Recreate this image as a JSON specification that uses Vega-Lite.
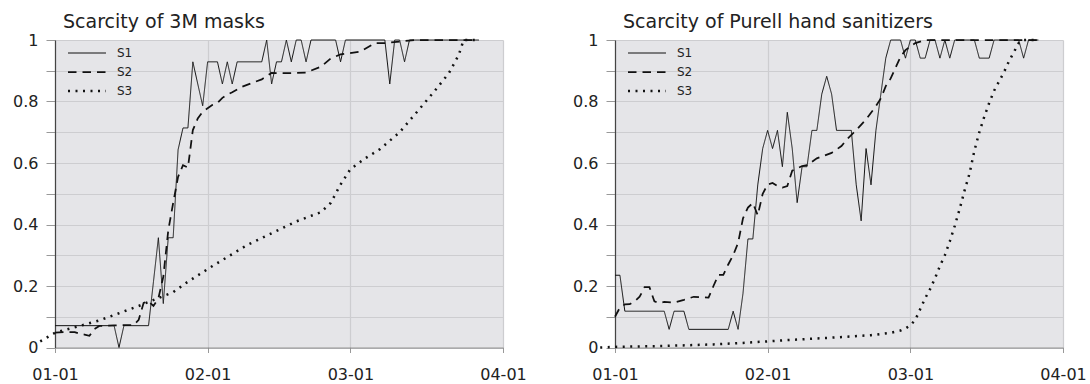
{
  "$schema": "https://vega.github.io/schema/vega-lite/v6.json",
  "padding": {"left": 12, "top": 13, "right": 2, "bottom": 5},
  "bounds": "flush",
  "spacing": 112,
  "config": {
    "font": "DejaVu Sans",
    "view": {"fill": "#e5e5e8", "stroke": null},
    "axis": {"labelFont": "DejaVu Sans", "labelFontSize": 16, "labelColor": "#222", "gridColor": "#cdcdd0", "gridWidth": 1.2, "tickColor": "#999", "domainWidth": 1.2, "title": null},
    "title": {"font": "DejaVu Sans", "fontSize": 19, "fontWeight": "normal", "color": "#222", "anchor": "start", "frame": "group"},
    "legend": {"orient": "none", "legendX": 13, "legendY": 1.5, "title": null, "symbolType": "M-1.136,0H2.318", "symbolSize": 484, "symbolStrokeColor": "#111", "labelFont": "DejaVu Sans", "labelFontSize": 12, "labelColor": "#222", "rowPadding": 0.5, "padding": 0, "labelOffset": 24},
    "line": {"color": "#111"}
  },
  "datasets": {
    "masks": [
      {"series": "S1", "date": "2020-01-01", "value": 0.071},
      {"series": "S1", "date": "2020-01-13", "value": 0.071},
      {"series": "S1", "date": "2020-01-14", "value": 0},
      {"series": "S1", "date": "2020-01-15", "value": 0.071},
      {"series": "S1", "date": "2020-01-20", "value": 0.071},
      {"series": "S1", "date": "2020-01-21", "value": 0.214},
      {"series": "S1", "date": "2020-01-22", "value": 0.357},
      {"series": "S1", "date": "2020-01-23", "value": 0.143},
      {"series": "S1", "date": "2020-01-24", "value": 0.357},
      {"series": "S1", "date": "2020-01-25", "value": 0.357},
      {"series": "S1", "date": "2020-01-26", "value": 0.643},
      {"series": "S1", "date": "2020-01-27", "value": 0.714},
      {"series": "S1", "date": "2020-01-28", "value": 0.714},
      {"series": "S1", "date": "2020-01-29", "value": 0.929},
      {"series": "S1", "date": "2020-01-30", "value": 0.857},
      {"series": "S1", "date": "2020-01-31", "value": 0.786},
      {"series": "S1", "date": "2020-02-01", "value": 0.929},
      {"series": "S1", "date": "2020-02-03", "value": 0.929},
      {"series": "S1", "date": "2020-02-04", "value": 0.857},
      {"series": "S1", "date": "2020-02-05", "value": 0.929},
      {"series": "S1", "date": "2020-02-06", "value": 0.857},
      {"series": "S1", "date": "2020-02-07", "value": 0.929},
      {"series": "S1", "date": "2020-02-12", "value": 0.929},
      {"series": "S1", "date": "2020-02-13", "value": 1},
      {"series": "S1", "date": "2020-02-14", "value": 0.857},
      {"series": "S1", "date": "2020-02-15", "value": 0.929},
      {"series": "S1", "date": "2020-02-16", "value": 0.929},
      {"series": "S1", "date": "2020-02-17", "value": 1},
      {"series": "S1", "date": "2020-02-18", "value": 0.929},
      {"series": "S1", "date": "2020-02-19", "value": 1},
      {"series": "S1", "date": "2020-02-20", "value": 1},
      {"series": "S1", "date": "2020-02-21", "value": 0.929},
      {"series": "S1", "date": "2020-02-22", "value": 1},
      {"series": "S1", "date": "2020-02-27", "value": 1},
      {"series": "S1", "date": "2020-02-28", "value": 0.929},
      {"series": "S1", "date": "2020-02-29", "value": 1},
      {"series": "S1", "date": "2020-03-08", "value": 1},
      {"series": "S1", "date": "2020-03-09", "value": 0.857},
      {"series": "S1", "date": "2020-03-10", "value": 1},
      {"series": "S1", "date": "2020-03-11", "value": 1},
      {"series": "S1", "date": "2020-03-12", "value": 0.929},
      {"series": "S1", "date": "2020-03-13", "value": 1},
      {"series": "S1", "date": "2020-03-27", "value": 1},
      {"series": "S2", "date": "2020-01-01", "value": 0.048},
      {"series": "S2", "date": "2020-01-03", "value": 0.05},
      {"series": "S2", "date": "2020-01-05", "value": 0.05},
      {"series": "S2", "date": "2020-01-06", "value": 0.045},
      {"series": "S2", "date": "2020-01-07", "value": 0.042},
      {"series": "S2", "date": "2020-01-08", "value": 0.038},
      {"series": "S2", "date": "2020-01-09", "value": 0.06},
      {"series": "S2", "date": "2020-01-10", "value": 0.07},
      {"series": "S2", "date": "2020-01-11", "value": 0.07},
      {"series": "S2", "date": "2020-01-13", "value": 0.072},
      {"series": "S2", "date": "2020-01-15", "value": 0.073},
      {"series": "S2", "date": "2020-01-17", "value": 0.073},
      {"series": "S2", "date": "2020-01-18", "value": 0.09},
      {"series": "S2", "date": "2020-01-19", "value": 0.145},
      {"series": "S2", "date": "2020-01-20", "value": 0.15},
      {"series": "S2", "date": "2020-01-21", "value": 0.135},
      {"series": "S2", "date": "2020-01-22", "value": 0.16},
      {"series": "S2", "date": "2020-01-23", "value": 0.23},
      {"series": "S2", "date": "2020-01-24", "value": 0.38},
      {"series": "S2", "date": "2020-01-25", "value": 0.47},
      {"series": "S2", "date": "2020-01-26", "value": 0.555},
      {"series": "S2", "date": "2020-01-27", "value": 0.593},
      {"series": "S2", "date": "2020-01-28", "value": 0.585},
      {"series": "S2", "date": "2020-01-29", "value": 0.707},
      {"series": "S2", "date": "2020-01-30", "value": 0.745},
      {"series": "S2", "date": "2020-01-31", "value": 0.767},
      {"series": "S2", "date": "2020-02-01", "value": 0.778},
      {"series": "S2", "date": "2020-02-02", "value": 0.789},
      {"series": "S2", "date": "2020-02-03", "value": 0.795},
      {"series": "S2", "date": "2020-02-04", "value": 0.812},
      {"series": "S2", "date": "2020-02-05", "value": 0.822},
      {"series": "S2", "date": "2020-02-06", "value": 0.83},
      {"series": "S2", "date": "2020-02-08", "value": 0.848},
      {"series": "S2", "date": "2020-02-10", "value": 0.86},
      {"series": "S2", "date": "2020-02-12", "value": 0.872},
      {"series": "S2", "date": "2020-02-14", "value": 0.893},
      {"series": "S2", "date": "2020-02-17", "value": 0.892},
      {"series": "S2", "date": "2020-02-21", "value": 0.894},
      {"series": "S2", "date": "2020-02-24", "value": 0.913},
      {"series": "S2", "date": "2020-02-26", "value": 0.94},
      {"series": "S2", "date": "2020-02-28", "value": 0.953},
      {"series": "S2", "date": "2020-03-03", "value": 0.962},
      {"series": "S2", "date": "2020-03-06", "value": 0.99},
      {"series": "S2", "date": "2020-03-08", "value": 0.99},
      {"series": "S2", "date": "2020-03-11", "value": 0.995},
      {"series": "S2", "date": "2020-03-14", "value": 1},
      {"series": "S2", "date": "2020-03-27", "value": 1},
      {"series": "S3", "date": "2019-12-29", "value": 0.02},
      {"series": "S3", "date": "2020-01-01", "value": 0.048},
      {"series": "S3", "date": "2020-01-06", "value": 0.07},
      {"series": "S3", "date": "2020-01-10", "value": 0.088},
      {"series": "S3", "date": "2020-01-18", "value": 0.135},
      {"series": "S3", "date": "2020-01-25", "value": 0.18},
      {"series": "S3", "date": "2020-01-28", "value": 0.214},
      {"series": "S3", "date": "2020-02-02", "value": 0.265},
      {"series": "S3", "date": "2020-02-09", "value": 0.333},
      {"series": "S3", "date": "2020-02-19", "value": 0.41},
      {"series": "S3", "date": "2020-02-24", "value": 0.44},
      {"series": "S3", "date": "2020-02-26", "value": 0.47},
      {"series": "S3", "date": "2020-02-28", "value": 0.53},
      {"series": "S3", "date": "2020-03-01", "value": 0.58},
      {"series": "S3", "date": "2020-03-04", "value": 0.615},
      {"series": "S3", "date": "2020-03-07", "value": 0.645},
      {"series": "S3", "date": "2020-03-11", "value": 0.7},
      {"series": "S3", "date": "2020-03-15", "value": 0.775},
      {"series": "S3", "date": "2020-03-18", "value": 0.832},
      {"series": "S3", "date": "2020-03-21", "value": 0.892},
      {"series": "S3", "date": "2020-03-23", "value": 0.951},
      {"series": "S3", "date": "2020-03-24", "value": 1},
      {"series": "S3", "date": "2020-03-27", "value": 1}
    ],
    "purell": [
      {"series": "S1", "date": "2020-01-01", "value": 0.235},
      {"series": "S1", "date": "2020-01-02", "value": 0.235},
      {"series": "S1", "date": "2020-01-03", "value": 0.118},
      {"series": "S1", "date": "2020-01-11", "value": 0.118},
      {"series": "S1", "date": "2020-01-12", "value": 0.059},
      {"series": "S1", "date": "2020-01-13", "value": 0.118},
      {"series": "S1", "date": "2020-01-15", "value": 0.118},
      {"series": "S1", "date": "2020-01-16", "value": 0.059},
      {"series": "S1", "date": "2020-01-24", "value": 0.059},
      {"series": "S1", "date": "2020-01-25", "value": 0.118},
      {"series": "S1", "date": "2020-01-26", "value": 0.059},
      {"series": "S1", "date": "2020-01-27", "value": 0.176},
      {"series": "S1", "date": "2020-01-28", "value": 0.353},
      {"series": "S1", "date": "2020-01-29", "value": 0.353},
      {"series": "S1", "date": "2020-01-30", "value": 0.529},
      {"series": "S1", "date": "2020-01-31", "value": 0.647},
      {"series": "S1", "date": "2020-02-01", "value": 0.706},
      {"series": "S1", "date": "2020-02-02", "value": 0.647},
      {"series": "S1", "date": "2020-02-03", "value": 0.706},
      {"series": "S1", "date": "2020-02-04", "value": 0.588},
      {"series": "S1", "date": "2020-02-05", "value": 0.765},
      {"series": "S1", "date": "2020-02-06", "value": 0.647},
      {"series": "S1", "date": "2020-02-07", "value": 0.471},
      {"series": "S1", "date": "2020-02-08", "value": 0.588},
      {"series": "S1", "date": "2020-02-09", "value": 0.588},
      {"series": "S1", "date": "2020-02-10", "value": 0.706},
      {"series": "S1", "date": "2020-02-11", "value": 0.706},
      {"series": "S1", "date": "2020-02-12", "value": 0.824},
      {"series": "S1", "date": "2020-02-13", "value": 0.882},
      {"series": "S1", "date": "2020-02-14", "value": 0.824},
      {"series": "S1", "date": "2020-02-15", "value": 0.706},
      {"series": "S1", "date": "2020-02-18", "value": 0.706},
      {"series": "S1", "date": "2020-02-19", "value": 0.529},
      {"series": "S1", "date": "2020-02-20", "value": 0.412},
      {"series": "S1", "date": "2020-02-21", "value": 0.647},
      {"series": "S1", "date": "2020-02-22", "value": 0.529},
      {"series": "S1", "date": "2020-02-23", "value": 0.706},
      {"series": "S1", "date": "2020-02-24", "value": 0.824},
      {"series": "S1", "date": "2020-02-25", "value": 0.941},
      {"series": "S1", "date": "2020-02-26", "value": 1},
      {"series": "S1", "date": "2020-02-28", "value": 1},
      {"series": "S1", "date": "2020-02-29", "value": 0.941},
      {"series": "S1", "date": "2020-03-01", "value": 1},
      {"series": "S1", "date": "2020-03-02", "value": 1},
      {"series": "S1", "date": "2020-03-03", "value": 0.941},
      {"series": "S1", "date": "2020-03-04", "value": 0.941},
      {"series": "S1", "date": "2020-03-05", "value": 1},
      {"series": "S1", "date": "2020-03-06", "value": 1},
      {"series": "S1", "date": "2020-03-07", "value": 0.941},
      {"series": "S1", "date": "2020-03-08", "value": 1},
      {"series": "S1", "date": "2020-03-09", "value": 0.941},
      {"series": "S1", "date": "2020-03-10", "value": 1},
      {"series": "S1", "date": "2020-03-14", "value": 1},
      {"series": "S1", "date": "2020-03-15", "value": 0.941},
      {"series": "S1", "date": "2020-03-17", "value": 0.941},
      {"series": "S1", "date": "2020-03-18", "value": 1},
      {"series": "S1", "date": "2020-03-23", "value": 1},
      {"series": "S1", "date": "2020-03-24", "value": 0.941},
      {"series": "S1", "date": "2020-03-25", "value": 1},
      {"series": "S1", "date": "2020-03-27", "value": 1},
      {"series": "S2", "date": "2020-01-01", "value": 0.1},
      {"series": "S2", "date": "2020-01-02", "value": 0.13},
      {"series": "S2", "date": "2020-01-03", "value": 0.14},
      {"series": "S2", "date": "2020-01-04", "value": 0.141},
      {"series": "S2", "date": "2020-01-05", "value": 0.15},
      {"series": "S2", "date": "2020-01-06", "value": 0.165},
      {"series": "S2", "date": "2020-01-07", "value": 0.196},
      {"series": "S2", "date": "2020-01-08", "value": 0.196},
      {"series": "S2", "date": "2020-01-09", "value": 0.15},
      {"series": "S2", "date": "2020-01-10", "value": 0.145},
      {"series": "S2", "date": "2020-01-11", "value": 0.148},
      {"series": "S2", "date": "2020-01-13", "value": 0.146},
      {"series": "S2", "date": "2020-01-15", "value": 0.155},
      {"series": "S2", "date": "2020-01-17", "value": 0.165},
      {"series": "S2", "date": "2020-01-20", "value": 0.162},
      {"series": "S2", "date": "2020-01-21", "value": 0.2},
      {"series": "S2", "date": "2020-01-22", "value": 0.236},
      {"series": "S2", "date": "2020-01-23", "value": 0.236},
      {"series": "S2", "date": "2020-01-24", "value": 0.27},
      {"series": "S2", "date": "2020-01-25", "value": 0.3},
      {"series": "S2", "date": "2020-01-26", "value": 0.34},
      {"series": "S2", "date": "2020-01-27", "value": 0.42},
      {"series": "S2", "date": "2020-01-28", "value": 0.455},
      {"series": "S2", "date": "2020-01-29", "value": 0.47},
      {"series": "S2", "date": "2020-01-30", "value": 0.43},
      {"series": "S2", "date": "2020-01-31", "value": 0.5},
      {"series": "S2", "date": "2020-02-01", "value": 0.53},
      {"series": "S2", "date": "2020-02-02", "value": 0.535},
      {"series": "S2", "date": "2020-02-03", "value": 0.525},
      {"series": "S2", "date": "2020-02-04", "value": 0.52},
      {"series": "S2", "date": "2020-02-05", "value": 0.525},
      {"series": "S2", "date": "2020-02-06", "value": 0.575},
      {"series": "S2", "date": "2020-02-08", "value": 0.59},
      {"series": "S2", "date": "2020-02-09", "value": 0.593},
      {"series": "S2", "date": "2020-02-11", "value": 0.615},
      {"series": "S2", "date": "2020-02-14", "value": 0.633},
      {"series": "S2", "date": "2020-02-16", "value": 0.655},
      {"series": "S2", "date": "2020-02-17", "value": 0.675},
      {"series": "S2", "date": "2020-02-19", "value": 0.707},
      {"series": "S2", "date": "2020-02-21", "value": 0.742},
      {"series": "S2", "date": "2020-02-23", "value": 0.785},
      {"series": "S2", "date": "2020-02-24", "value": 0.81},
      {"series": "S2", "date": "2020-02-25", "value": 0.85},
      {"series": "S2", "date": "2020-02-26", "value": 0.875},
      {"series": "S2", "date": "2020-02-27", "value": 0.91},
      {"series": "S2", "date": "2020-02-28", "value": 0.945},
      {"series": "S2", "date": "2020-02-29", "value": 0.967},
      {"series": "S2", "date": "2020-03-02", "value": 0.99},
      {"series": "S2", "date": "2020-03-04", "value": 1},
      {"series": "S2", "date": "2020-03-27", "value": 1},
      {"series": "S3", "date": "2019-12-29", "value": 0},
      {"series": "S3", "date": "2020-01-01", "value": 0.002},
      {"series": "S3", "date": "2020-01-11", "value": 0.005},
      {"series": "S3", "date": "2020-01-21", "value": 0.01},
      {"series": "S3", "date": "2020-01-27", "value": 0.015},
      {"series": "S3", "date": "2020-02-05", "value": 0.024},
      {"series": "S3", "date": "2020-02-15", "value": 0.033},
      {"series": "S3", "date": "2020-02-22", "value": 0.04},
      {"series": "S3", "date": "2020-02-26", "value": 0.048},
      {"series": "S3", "date": "2020-02-28", "value": 0.055},
      {"series": "S3", "date": "2020-02-29", "value": 0.062},
      {"series": "S3", "date": "2020-03-01", "value": 0.072},
      {"series": "S3", "date": "2020-03-02", "value": 0.09},
      {"series": "S3", "date": "2020-03-03", "value": 0.125},
      {"series": "S3", "date": "2020-03-04", "value": 0.16},
      {"series": "S3", "date": "2020-03-05", "value": 0.19},
      {"series": "S3", "date": "2020-03-06", "value": 0.225},
      {"series": "S3", "date": "2020-03-07", "value": 0.265},
      {"series": "S3", "date": "2020-03-08", "value": 0.3},
      {"series": "S3", "date": "2020-03-09", "value": 0.345},
      {"series": "S3", "date": "2020-03-10", "value": 0.395},
      {"series": "S3", "date": "2020-03-11", "value": 0.45},
      {"series": "S3", "date": "2020-03-12", "value": 0.51},
      {"series": "S3", "date": "2020-03-13", "value": 0.565},
      {"series": "S3", "date": "2020-03-14", "value": 0.64},
      {"series": "S3", "date": "2020-03-15", "value": 0.7},
      {"series": "S3", "date": "2020-03-16", "value": 0.75},
      {"series": "S3", "date": "2020-03-17", "value": 0.795},
      {"series": "S3", "date": "2020-03-18", "value": 0.835},
      {"series": "S3", "date": "2020-03-19", "value": 0.865},
      {"series": "S3", "date": "2020-03-20", "value": 0.895},
      {"series": "S3", "date": "2020-03-21", "value": 0.93},
      {"series": "S3", "date": "2020-03-22", "value": 0.96},
      {"series": "S3", "date": "2020-03-23", "value": 0.99},
      {"series": "S3", "date": "2020-03-24", "value": 1},
      {"series": "S3", "date": "2020-03-27", "value": 1}
    ]
  },
  "resolve": {"legend": {"strokeDash": "independent", "strokeWidth": "independent"}},
  "hconcat": [
    {
      "width": 448,
      "height": 307.5,
      "data": {"name": "masks"},
      "title": {"text": "Scarcity of 3M masks", "dx": 8, "offset": 0},
      "mark": {"type": "line", "color": "#111"},
      "encoding": {
        "x": {"field": "date", "type": "temporal",
          "scale": {"type": "utc", "domain": [{"year": 2020, "month": 1, "date": 1, "utc": true}, {"year": 2020, "month": 4, "date": 1, "utc": true}]},
          "axis": {"values": [{"year": 2020, "month": 1, "date": 1, "utc": true}, {"year": 2020, "month": 2, "date": 1, "utc": true}, {"year": 2020, "month": 3, "date": 1, "utc": true}, {"year": 2020, "month": 4, "date": 1, "utc": true}], "format": "%m-%d", "tickSize": 5, "labelPadding": 13.5, "domainColor": "#888", "labelFlush": false}},
        "y": {"field": "value", "type": "quantitative",
          "scale": {"domain": [0, 1], "nice": false, "zero": false},
          "axis": {"values": [0, 0.1, 0.2, 0.3, 0.4, 0.5, 0.6, 0.7, 0.8, 0.9, 1], "format": "~g", "labelExpr": "round(datum.value*10) % 2 == 0 ? datum.label : ''", "tickSize": 9, "labelPadding": 8, "domainColor": "#444"}},
        "strokeDash": {"field": "series", "type": "nominal", "scale": {"domain": ["S1", "S2", "S3"], "range": [[1, 0], [8.5, 6], [2, 5.5]]}},
        "strokeWidth": {"field": "series", "type": "nominal", "scale": {"domain": ["S1", "S2", "S3"], "range": [1, 2.5, 2]}}
      }
    },
    {
      "width": 448,
      "height": 307.5,
      "data": {"name": "purell"},
      "title": {"text": "Scarcity of Purell hand sanitizers", "dx": 8, "offset": 0},
      "mark": {"type": "line", "color": "#111"},
      "encoding": {
        "x": {"field": "date", "type": "temporal",
          "scale": {"type": "utc", "domain": [{"year": 2020, "month": 1, "date": 1, "utc": true}, {"year": 2020, "month": 4, "date": 1, "utc": true}]},
          "axis": {"values": [{"year": 2020, "month": 1, "date": 1, "utc": true}, {"year": 2020, "month": 2, "date": 1, "utc": true}, {"year": 2020, "month": 3, "date": 1, "utc": true}, {"year": 2020, "month": 4, "date": 1, "utc": true}], "format": "%m-%d", "tickSize": 5, "labelPadding": 13.5, "domainColor": "#888", "labelFlush": false}},
        "y": {"field": "value", "type": "quantitative",
          "scale": {"domain": [0, 1], "nice": false, "zero": false},
          "axis": {"values": [0, 0.1, 0.2, 0.3, 0.4, 0.5, 0.6, 0.7, 0.8, 0.9, 1], "format": "~g", "labelExpr": "round(datum.value*10) % 2 == 0 ? datum.label : ''", "tickSize": 9, "labelPadding": 8, "domainColor": "#444"}},
        "strokeDash": {"field": "series", "type": "nominal", "scale": {"domain": ["S1", "S2", "S3"], "range": [[1, 0], [8.5, 6], [2, 5.5]]}},
        "strokeWidth": {"field": "series", "type": "nominal", "scale": {"domain": ["S1", "S2", "S3"], "range": [1, 2.5, 2]}}
      }
    }
  ]
}
